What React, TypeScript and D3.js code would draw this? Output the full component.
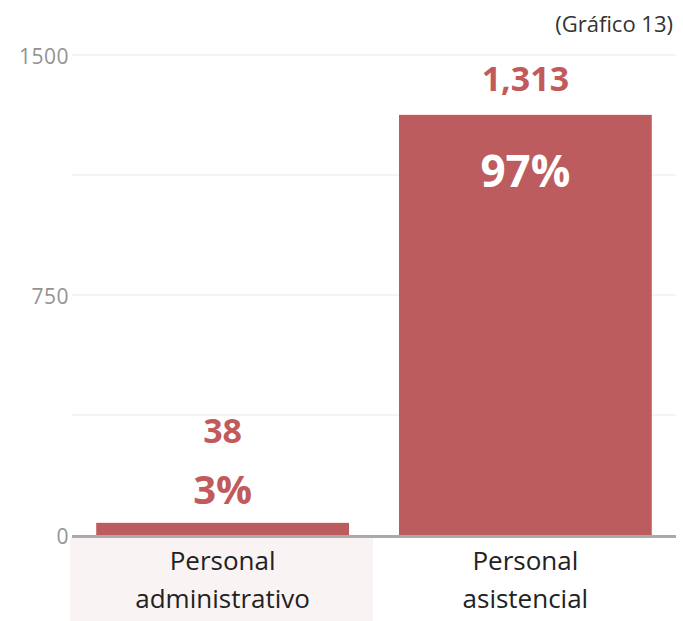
import React from "react";
import * as d3 from "d3";

const categories = ["Personal administrativo", "Personal asistencial"];
const categoryLines = [["Personal", "administrativo"], ["Personal", "asistencial"]];
const values = [38, 1313];
const valueLabels = ["38", "1,313"];
const percentLabels = ["3%", "97%"];
const tickValues = [0, 750, 1500];
const gridValues = [375, 750, 1125, 1500];
const title = "(Gráfico 13)";

const W = 683, H = 621;
const BAR_COLOR = "#bd5c5e";
const LABEL_COLOR = "#c25a5c";

export default function App() {
  const y = d3.scaleLinear().domain([0, 1500]).range([535, 55]);
  const x = d3.scaleBand<string>().domain(categories).range([72, 676]).paddingInner(0.165).paddingOuter(0.08);
  const font = "'Open Sans', 'Noto Sans', sans-serif";
  return (
    <svg width={W} height={H} style={{ position: "absolute", left: 0, top: 0, background: "#fff" }}>
      <rect x={0} y={0} width={W} height={H} fill="#fff" />
      {gridValues.map((v) => (
        <line key={v} x1={72} x2={676} y1={y(v)} y2={y(v)} stroke="#f4f4f4" strokeWidth={2} />
      ))}
      {tickValues.map((v) => (
        <text key={v} x={69} y={y(v) + 2} dy="0.35em" textAnchor="end" fontFamily={font} fontSize={21} fill="#939393" letterSpacing={0.5}>
          {v}
        </text>
      ))}
      <rect x={70} y={538} width={303} height={83} fill="#f9f3f3" />
      {categories.map((c, i) => {
        const bx = x(c)!;
        const bw = x.bandwidth();
        const cx = bx + bw / 2;
        const top = y(values[i]);
        const big = values[i] > 750;
        return (
          <g key={c}>
            <rect x={bx} y={top} width={bw} height={y(0) - top} fill={BAR_COLOR} />
            {big ? (
              <>
                <text x={cx} y={top - 24} textAnchor="middle" fontFamily={font} fontWeight={700} fontSize={34} fill={LABEL_COLOR}>
                  {valueLabels[i]}
                </text>
                <text x={cx} y={top + 72} textAnchor="middle" fontFamily={font} fontWeight={700} fontSize={44} fill="#fff">
                  {percentLabels[i]}
                </text>
              </>
            ) : (
              <>
                <text x={cx} y={top - 80} textAnchor="middle" fontFamily={font} fontWeight={700} fontSize={34} fill={LABEL_COLOR}>
                  {valueLabels[i]}
                </text>
                <text x={cx} y={top - 19} textAnchor="middle" fontFamily={font} fontWeight={700} fontSize={40} fill={LABEL_COLOR}>
                  {percentLabels[i]}
                </text>
              </>
            )}
            {categoryLines[i].map((t, j) => (
              <text key={j} x={cx} y={570 + j * 38} textAnchor="middle" fontFamily={font} fontSize={26} fill="#222">
                {t}
              </text>
            ))}
          </g>
        );
      })}
      <line x1={72} x2={676} y1={y(0) + 1.5} y2={y(0) + 1.5} stroke="#aaaaaa" strokeWidth={3} />
      <text x={673} y={32} textAnchor="end" fontFamily={font} fontSize={22} fill="#333">
        {title}
      </text>
    </svg>
  );
}
